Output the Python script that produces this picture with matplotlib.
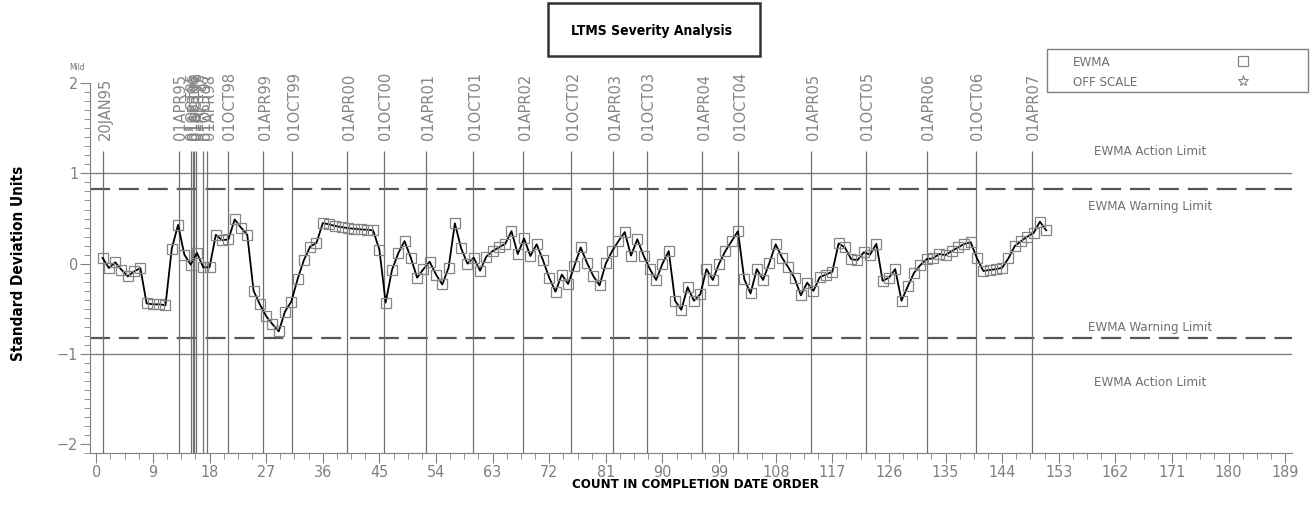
import matplotlib
matplotlib.use("Agg")
import matplotlib.pyplot as plt
from matplotlib.patches import Rectangle
from matplotlib.ticker import MultipleLocator
import numpy as np

# EWMA values in completion order (count 1..151)
ewma = [0.064, -0.048, 0.015, -0.067, -0.14, -0.086, -0.048, -0.44, -0.45, -0.45,
        -0.46, 0.167, 0.43, 0.10, -0.01, 0.12, -0.04, -0.04, 0.32, 0.26,
        0.27, 0.49, 0.40, 0.32, -0.30, -0.45, -0.58, -0.67, -0.75, -0.53,
        -0.42, -0.17, 0.04, 0.19, 0.23, 0.45, 0.436, 0.417, 0.406, 0.394,
        0.387, 0.38, 0.376, 0.369, 0.156, -0.43, -0.07, 0.115, 0.25, 0.066,
        -0.155, -0.06, 0.022, -0.12, -0.23, -0.044, 0.447, 0.17, 0.0, 0.067,
        -0.077, 0.078, 0.14, 0.18, 0.22, 0.36, 0.107, 0.28, 0.085, 0.215,
        0.04, -0.155, -0.31, -0.12, -0.225, -0.025, 0.18, 0.01, -0.136, -0.24,
        0.004, 0.14, 0.25, 0.35, 0.09, 0.27, 0.09, -0.06, -0.18, 0.0,
        0.14, -0.41, -0.51, -0.26, -0.41, -0.34, -0.06, -0.18, 0.0, 0.14,
        0.25, 0.36, -0.17, -0.33, -0.06, -0.18, 0.01, 0.215, 0.067, -0.04,
        -0.16, -0.35, -0.21, -0.30, -0.15, -0.12, -0.09, 0.225, 0.18, 0.05,
        0.04, 0.126, 0.10, 0.22, -0.19, -0.155, -0.06, -0.41, -0.25, -0.10,
        -0.015, 0.05, 0.06, 0.107, 0.096, 0.14, 0.18, 0.22, 0.237, 0.06,
        -0.08, -0.07, -0.06, -0.045, 0.06, 0.195, 0.25, 0.30, 0.34, 0.465,
        0.37]
count = np.arange(1, len(ewma) + 1)

# date markers along the count axis
date_pos = [1.1, 13.1, 15.0, 15.3, 15.6, 15.9, 17.0, 17.6, 20.9, 26.5, 31.1,
            39.9, 45.7, 52.4, 59.9, 67.8, 75.5, 82.2, 87.5, 96.3, 102.0,
            113.6, 122.3, 132.0, 139.8, 148.7]
date_lbl = ["20JAN95", "01APR95", "01OCT95", "01APR96", "01OCT96", "01APR97",
            "01OCT97", "01APR98", "01OCT98", "01APR99", "01OCT99", "01APR00",
            "01OCT00", "01APR01", "01OCT01", "01APR02", "01OCT02", "01APR03",
            "01OCT03", "01APR04", "01OCT04", "01APR05", "01OCT05", "01APR06",
            "01OCT06", "01APR07"]

action_limit = 1.0
warning_limit = 0.825

fam = ["DejaVu Sans"]
cond = dict(family=fam, fontstretch="condensed")
heavy = dict(family=fam, fontstretch="condensed", fontweight="bold")
grey = "#707070"

fig = plt.figure(figsize=(13.12, 5.15), dpi=100)
ax = fig.add_axes([0.0686, 0.1198, 0.9158, 0.7188])
ax.set_xlim(-1, 190)
ax.set_ylim(-2.1, 2.0)

# limit lines
ax.axhline(action_limit, color="#808080", lw=1.0)
ax.axhline(-action_limit, color="#808080", lw=1.0)
ax.axhline(warning_limit, color="#555555", lw=1.6, dashes=(9, 4))
ax.axhline(-warning_limit, color="#555555", lw=1.6, dashes=(9, 4))

# date lines and labels
ax.vlines(date_pos, -2.1, 1.25, color="#707070", lw=0.9)
for xp, lb in zip(date_pos, date_lbl):
    ax.text(xp + 0.35, 1.37, lb, rotation=90, ha="center", va="bottom",
            fontsize=10.5, color="#858585", family=fam)

ax.plot(count, ewma, color="black", lw=1.3, zorder=3)
ax.plot(count, ewma, ls="none", marker="s", ms=7, mfc="none", mec="#858585",
        mew=0.9, zorder=4)

for yv, txt in [(1.24, "EWMA Action Limit"), (0.63, "EWMA Warning Limit"),
                (-0.71, "EWMA Warning Limit"), (-1.32, "EWMA Action Limit")]:
    ax.text(167.5, yv, txt, ha="center", va="center", fontsize=9.5, color=grey,
            **cond)

# axes styling
for s in ["top", "right"]:
    ax.spines[s].set_visible(False)
for s in ["left", "bottom"]:
    ax.spines[s].set_color("#808080")
ax.set_xticks(np.arange(0, 190, 9))
ax.xaxis.set_minor_locator(MultipleLocator(2.25))
ax.yaxis.set_minor_locator(MultipleLocator(0.1))
ax.set_yticks([-2, -1, 0, 1, 2])
ax.set_yticklabels(["\u22122", "\u22121", "0", "1", "2"])
ax.tick_params(which="major", direction="out", length=7, color="#808080",
               labelcolor="#808080", labelsize=11.5, pad=1.5)
ax.tick_params(which="minor", direction="out", length=4, color="#808080")
for lab in ax.get_xticklabels() + ax.get_yticklabels():
    lab.set_fontstretch("condensed")

fig.text(0.014, 0.488, "Standard Deviation Units", rotation=90, ha="center",
         va="center", fontsize=11, **heavy)
fig.text(695 / 1312, 1 - 485 / 515, "COUNT IN COMPLETION DATE ORDER",
         ha="center", va="center", fontsize=9.5, **heavy)
fig.text(77 / 1312, 1 - 68 / 515, "Mild", ha="center", va="center", fontsize=6,
         color=grey, **cond)

# title box
fig.patches.append(Rectangle((548 / 1312, 1 - 56 / 515), 212 / 1312, 53 / 515,
                             transform=fig.transFigure, fill=False,
                             ec="#333333", lw=1.8))
fig.text(652 / 1312, 1 - 31 / 515, "LTMS Severity Analysis", ha="center",
         va="center", fontsize=10, **heavy)

# legend box
fig.patches.append(Rectangle((1047 / 1312, 1 - 92 / 515), 261 / 1312, 43 / 515,
                             transform=fig.transFigure, fill=False,
                             ec="#808080", lw=1.0))
fig.text(1073 / 1312, 1 - 62 / 515, "EWMA", ha="left", va="center",
         fontsize=9.5, color=grey, **cond)
fig.text(1073 / 1312, 1 - 82 / 515, "OFF SCALE", ha="left", va="center",
         fontsize=9.5, color=grey, **cond)
fig.lines.append(plt.Line2D([1243 / 1312], [1 - 61 / 515], marker="s", ms=7,
                            mfc="none", mec="#858585", mew=0.9,
                            transform=fig.transFigure))
fig.lines.append(plt.Line2D([1243 / 1312], [1 - 81 / 515], marker="*", ms=8,
                            mfc="none", mec="#858585", mew=0.8,
                            transform=fig.transFigure))

fig.savefig("out.png", dpi=100)
